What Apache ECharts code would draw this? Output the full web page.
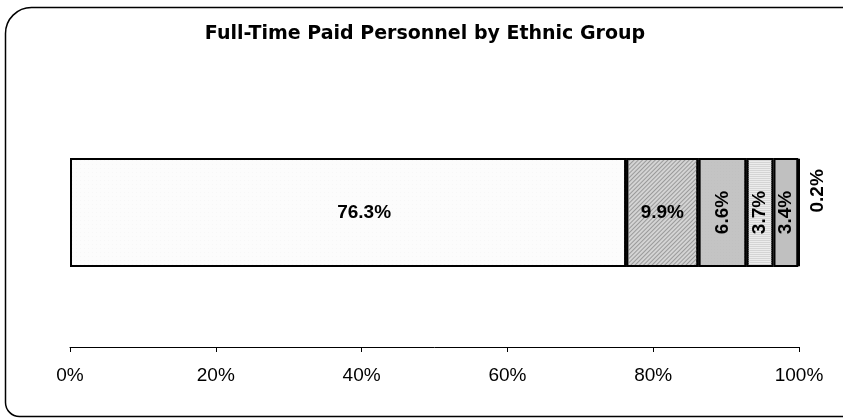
<!DOCTYPE html>
<html>
<head>
<meta charset="utf-8">
<script src="https://cdn.jsdelivr.net/npm/echarts@6/dist/echarts.min.js"></script>
<style>
  html, body { margin: 0; padding: 0; background: #fff; }
  #chart { width: 843px; height: 418px; }
</style>
</head>
<body>
<div id="chart"></div>
<script>
const groups = ["White", "Black", "Hispanic", "Asian", "Other", "American Indian"];
const shares = [76.3, 9.9, 6.6, 3.7, 3.4, 0.2];
const fills = ["#fcfcfc", "#d4d4d4", "#c4c4c4", "#ececec", "#c0c0c0", "#000000"];
const tickLabels = ["0%", "20%", "40%", "60%", "80%", "100%"];

// light textures similar to the original fills
const decals = [
  { symbol: "circle", symbolSize: 0.5, dashArrayX: [[1, 3]], dashArrayY: [1, 3], color: "#dedede" },
  { symbol: "rect", dashArrayX: [[1, 0]], dashArrayY: [1, 2], rotation: -Math.PI / 4, color: "#9a9a9a" },
  { symbol: "circle", symbolSize: 0.6, dashArrayX: [[1, 2]], dashArrayY: [1, 2], color: "#b4b4b4" },
  { symbol: "rect", dashArrayX: [[1, 0]], dashArrayY: [1, 1], color: "#d4d4d4" },
  null,
  null
];
const rotated = [false, false, true, true, true, true];
const labelFont = "'Liberation Sans', Arial, sans-serif";

const chart = echarts.init(document.getElementById("chart"));

chart.setOption({
  animation: false,
  textStyle: { fontFamily: labelFont },
  title: {
    text: "Full-Time Paid Personnel by Ethnic Group",
    left: 420,
    textAlign: "center",
    top: 20,
    textStyle: { fontSize: 19, fontWeight: "bold", color: "#000", fontFamily: "'DejaVu Sans', Verdana, sans-serif" }
  },
  graphic: [{
    type: "rect",
    shape: { x: 5.5, y: 7.5, width: 870, height: 409, r: [26, 26, 14, 14] },
    style: { fill: "none", stroke: "#000", lineWidth: 1.5 },
    silent: true
  }],
  grid: { left: 70, right: 44, top: 78, bottom: 71 },
  xAxis: {
    type: "value",
    min: 0,
    max: 100,
    interval: 20,
    splitLine: { show: false },
    axisLine: { show: true, lineStyle: { color: "#000", width: 1 } },
    axisTick: { show: true, inside: false, length: 5, lineStyle: { color: "#000" } },
    axisLabel: {
      color: "#000",
      fontSize: 19,
      margin: 19,
      formatter: (v) => tickLabels[Math.round(v / 20)]
    }
  },
  yAxis: {
    type: "category",
    data: ["Personnel"],
    show: false
  },
  series: groups.map((g, i) => ({
    name: g,
    type: "bar",
    stack: "total",
    barWidth: 109,
    data: [shares[i]],
    itemStyle: Object.assign(
      { color: fills[i], borderColor: "#000", borderWidth: 2 },
      decals[i] ? { decal: decals[i] } : {}
    ),
    label: {
      show: true,
      position: i === 5 ? "right" : "inside",
      distance: 18,
      offset: i === 0 ? [16, 0] : [0, 0],
      rotate: rotated[i] ? 90 : 0,
      formatter: shares[i].toFixed(1) + "%",
      color: "#000",
      fontSize: 19,
      fontWeight: "bold",
      fontFamily: labelFont
    }
  }))
});
</script>
</body>
</html>
